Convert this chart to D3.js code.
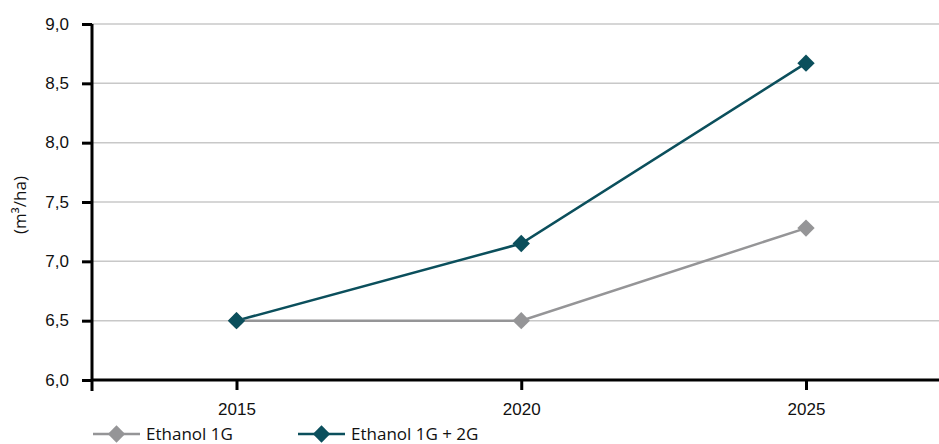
<!DOCTYPE html>
<html><head><meta charset="utf-8">
<script src="https://cdn.jsdelivr.net/npm/d3@7"></script>
<style>body{margin:0;background:#fff}svg{display:block;font-family:"Open Sans",sans-serif}</style>
</head><body><svg id="c" width="939" height="444"></svg>
<script>
const categories = ["2015","2020","2025"];
const ethanol1G = [6.5, 6.5, 7.28];
const ethanol1G2G = [6.5, 7.15, 8.67];
const yTicks = [6.0, 6.5, 7.0, 7.5, 8.0, 8.5, 9.0];
const seriesNames = ["Ethanol 1G", "Ethanol 1G + 2G"];
const colors = ["#959597", "#0b4f5c"];

const svg = d3.select("#c");
const x = d3.scalePoint().domain(categories).range([236.5, 806]);
const y = d3.scaleLinear().domain([6, 9]).range([380, 24]);
const fmt = d => d.toFixed(1).replace(".", ",");
const FS = 17;

// gridlines
svg.append("g").selectAll("line").data(yTicks.filter(d => d > 6)).join("line")
  .attr("x1", 92).attr("x2", 939).attr("y1", d => y(d)).attr("y2", d => y(d))
  .attr("stroke", "#c8c8c8").attr("stroke-width", 1.5);

// y axis
const ya = svg.append("g").attr("transform", "translate(92,0)")
  .call(d3.axisLeft(y).tickValues(yTicks).tickFormat(fmt).tickSize(10).tickPadding(13));
ya.select(".domain").remove();
ya.selectAll(".tick line").attr("stroke", "#000").attr("stroke-width", 3);
ya.selectAll("text").attr("font-size", FS).attr("fill", "#111").attr("dy", "0.3em");
svg.append("line").attr("x1", 92).attr("x2", 92).attr("y1", 24).attr("y2", 391)
  .attr("stroke", "#000").attr("stroke-width", 3);

// x axis
const xa = svg.append("g").attr("transform", "translate(0,380)")
  .call(d3.axisBottom(x).tickSize(10).tickPadding(13));
xa.select(".domain").remove();
xa.selectAll(".tick line").attr("stroke", "#000").attr("stroke-width", 3);
xa.selectAll("text").attr("font-size", FS).attr("fill", "#111");
svg.append("line").attr("x1", 91).attr("x2", 939).attr("y1", 380).attr("y2", 380)
  .attr("stroke", "#000").attr("stroke-width", 3);

// y label
svg.append("text").attr("transform", "translate(26,205) rotate(-90)")
  .attr("text-anchor", "middle").attr("font-size", FS).attr("fill", "#111")
  .text("(m³/ha)");

const diamond = d3.symbol().type(d3.symbolSquare).size(150);
const series = [ethanol1G, ethanol1G2G];
const line = d3.line().x((d, i) => x(categories[i])).y(d => y(d));
series.forEach((s, k) => {
  svg.append("path").datum(s).attr("d", line).attr("fill", "none")
    .attr("stroke", colors[k]).attr("stroke-width", 2.5);
});
series.forEach((s, k) => {
  svg.append("g").selectAll("path").data(s).join("path")
    .attr("d", diamond)
    .attr("transform", (d, i) => `translate(${x(categories[i])},${y(d)}) rotate(45)`)
    .attr("fill", colors[k]);
});

// legend
const lx = [93, 298];
seriesNames.forEach((n, k) => {
  const g = svg.append("g").attr("transform", `translate(${lx[k]},434)`);
  g.append("line").attr("x1", 0).attr("x2", 47).attr("stroke", colors[k]).attr("stroke-width", 2.5);
  g.append("path").attr("d", diamond).attr("transform", "translate(23.5,0) rotate(45)").attr("fill", colors[k]);
  g.append("text").attr("x", 53).attr("y", 5.5).attr("font-size", FS).attr("fill", "#111").text(n);
});
</script></body></html>
